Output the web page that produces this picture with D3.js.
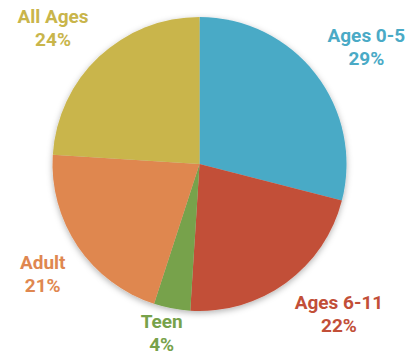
<!DOCTYPE html>
<html>
<head>
<meta charset="utf-8">
<script src="https://cdn.jsdelivr.net/npm/d3@7"></script>
<style>
  html, body { margin: 0; padding: 0; background: #fff; }
  svg { display: block; }
  text { font-family: Roboto, "Noto Sans", sans-serif; font-weight: 700; }
</style>
</head>
<body>
<svg id="chart" width="410" height="355"></svg>
<script>
// Audience breakdown by age group (percent of total)
const categories = ["Ages 0-5", "Ages 6-11", "Teen", "Adult", "All Ages"];
const shares = [29, 22, 4, 21, 24];
const colors = ["#4aaac6", "#c24f38", "#77a24b", "#df8750", "#c9b54b"];

const width = 410, height = 355;
const cx = 199.5, cy = 164, radius = 147;
const labelGap = 15;
const fontSize = 19, lineHeight = 23;

const svg = d3.select("#chart");

const defs = svg.append("defs");
defs.append("filter")
    .attr("id", "pieShadow")
    .attr("x", "-20%").attr("y", "-20%")
    .attr("width", "140%").attr("height", "140%")
  .append("feDropShadow")
    .attr("dx", 0).attr("dy", 2)
    .attr("stdDeviation", 3)
    .attr("flood-color", "#000")
    .attr("flood-opacity", 0.3);

const data = categories.map((c, i) => ({ category: c, value: shares[i], color: colors[i] }));

const pie = d3.pie().sort(null).value(d => d.value);
const arc = d3.arc().innerRadius(0).outerRadius(radius);
const arcs = pie(data);

const g = svg.append("g").attr("transform", `translate(${cx},${cy})`);

g.append("g")
    .attr("filter", "url(#pieShadow)")
  .selectAll("path")
  .data(arcs)
  .join("path")
    .attr("d", arc)
    .attr("fill", d => d.data.color);

// Labels sit outside the pie: the box corner nearest the centre is anchored
// on a ring just beyond the rim, along each slice's mid-angle. Labels that
// point nearly straight up or down hug the rim more closely.
const clamp = v => Math.max(-1, Math.min(1, v));
const labels = g.append("g").selectAll("g")
  .data(arcs)
  .join("g");

labels.each(function(d) {
  const sel = d3.select(this);
  const a = (d.startAngle + d.endAngle) / 2;
  const s = Math.sin(a), c = Math.cos(a);
  const hx = clamp(2.3 * s), hy = clamp(2.3 * c);
  const rr = radius + labelGap * Math.abs(hx);
  const px = rr * s, py = -rr * c;

  const t1 = sel.append("text")
      .attr("text-anchor", "middle")
      .attr("font-size", fontSize)
      .attr("fill", d.data.color)
      .text(d.data.category);
  const t2 = sel.append("text")
      .attr("text-anchor", "middle")
      .attr("font-size", fontSize)
      .attr("fill", d.data.color)
      .text(d3.format(".0f")(d.data.value) + "%");

  const w = Math.max(t1.node().getComputedTextLength(), t2.node().getComputedTextLength());
  const capH = fontSize * 0.711;
  const h = lineHeight + capH;

  const boxCx = px + (w / 2) * hx;
  const boxCy = py - (h / 2) * hy;
  const top = boxCy - h / 2;

  t1.attr("x", boxCx).attr("y", top + capH);
  t2.attr("x", boxCx).attr("y", top + capH + lineHeight);
});
</script>
</body>
</html>
